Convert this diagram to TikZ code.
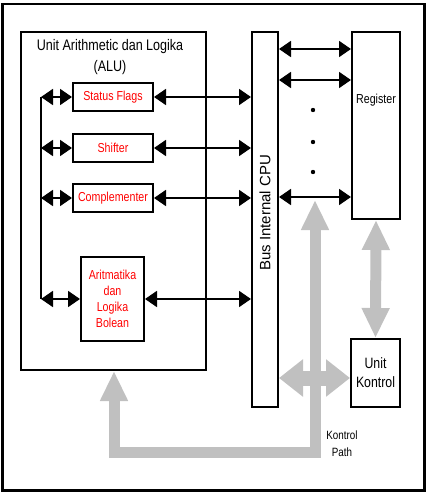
\documentclass[tikz,border=0pt]{standalone}
\usepackage{fontspec}
\setmainfont[FakeStretch=0.82]{Liberation Sans}
\newfontfamily\busfont{Liberation Sans}
\usetikzlibrary{arrows.meta}
\definecolor{abu}{RGB}{192,192,192}
\tikzset{
  kotak/.style={draw,line width=2pt,anchor=north west,inner sep=0pt},
  merah/.style={text=red,align=center,font=\fontsize{13}{16}\selectfont},
  teks/.style={align=center,inner sep=0pt},
  panah/.style={line width=1.8pt,{Triangle[length=12pt,width=16pt]}-{Triangle[length=12pt,width=16pt]}},
  panahv/.style={abu,line width=11pt,{Triangle[length=30pt,width=26pt]}-{Triangle[length=30pt,width=26pt]}},
  panahh/.style={abu,line width=15pt,{Triangle[length=24pt,width=36pt]}-{Triangle[length=24pt,width=36pt]}}
}
\begin{document}
\begin{tikzpicture}[x=1pt,y=-1pt]
\useasboundingbox (0,0) rectangle (428,500);
\node[kotak,line width=2.5pt,minimum width=422pt,minimum height=486pt] (bingkai) at (1,3) {};
\node[kotak,minimum width=185pt,minimum height=338pt] (alu) at (20,31) {};
\node[teks,font=\fontsize{15.3}{21}\selectfont] (judul) at (110,57) {Unit Arithmetic dan Logika\\(ALU)};
\node[kotak,merah,minimum width=80pt,minimum height=28pt] (sf) at (72,82) {Status Flags};
\node[kotak,merah,minimum width=80pt,minimum height=28pt] (sh) at (72,133) {Shifter};
\node[kotak,merah,minimum width=80pt,minimum height=28pt] (cp) at (72,183) {Complementer};
\node[kotak,merah,minimum width=63pt,minimum height=84pt] (alb) at (80,256) {Aritmatika\\dan\\Logika\\Bolean};
\node[kotak,minimum width=26pt,minimum height=375pt] (bus) at (251,31) {};
\node[rotate=90,inner sep=0pt,font=\busfont\fontsize{15}{15}\selectfont] (busteks) at (265,213) {Bus Internal CPU};
\node[kotak,minimum width=48pt,minimum height=187pt] (reg) at (351,31) {};
\node[teks,font=\fontsize{13}{14}\selectfont] (regteks) at (376,100) {Register};
\node[kotak,align=center,minimum width=49pt,minimum height=68pt,font=\fontsize{15}{19}\selectfont] (uk) at (350,338) {Unit\\Kontrol};
\node[teks,font=\fontsize{12}{17}\selectfont] (kpteks) at (342,444) {Kontrol\\Path};
\coordinate (kiri) at (41,0);
\coordinate (h) at (0,378);
\coordinate (kp1) at (315,200);
\coordinate (kp2) at (315,452);
\coordinate (kp3) at (114,452);
\draw[panahv] (reg.south) -- (uk.north);
\draw[panahh] (bus.east |- h) -- (uk.west |- h);
\draw[panahv,line join=miter] (kp1) -- (kp2) -- (kp3) -- (alu.south -| kp3);
\draw[line width=1.8pt] (sf.west -| kiri) -- (alb.west -| kiri);
\foreach \n in {sf,sh,cp,alb} {
  \draw[panah] (\n.west -| kiri) -- (\n.west);
  \draw[panah] (\n.east) -- (\n.east -| bus.west);
}
\foreach \y [count=\i] in {49,80,197} {
  \coordinate (b\i) at (0,\y);
  \draw[panah] (bus.east |- b\i) -- (reg.west |- b\i);
}
\foreach \y in {110,142,172} \fill (313,\y) circle (2.2pt);
\end{tikzpicture}
\end{document}
